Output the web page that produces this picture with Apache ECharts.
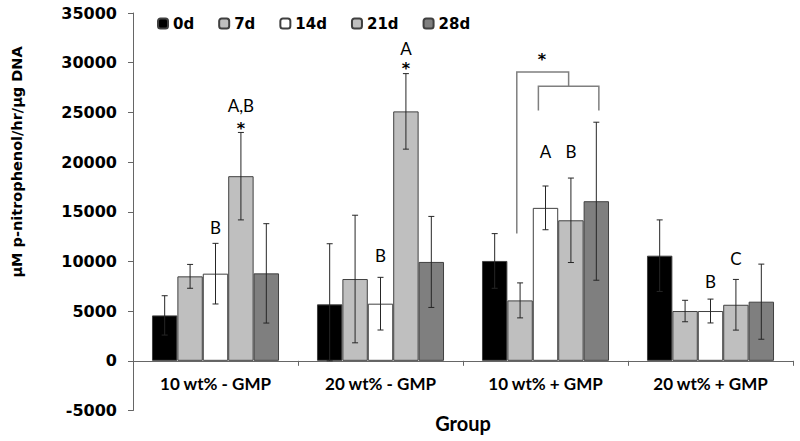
<!DOCTYPE html>
<html>
<head>
<meta charset="utf-8">
<script src="https://cdn.jsdelivr.net/npm/echarts@6/dist/echarts.min.js"></script>
<style>html,body{margin:0;padding:0;background:#fff;}#c{width:800px;height:441px;}</style>
</head>
<body>
<div id="c"></div>
<script>
// ---- data ----
var groups = ['10 wt% - GMP', '20 wt% - GMP', '10 wt% + GMP', '20 wt% + GMP'];
var days = ['0d', '7d', '14d', '21d', '28d'];
var mean0d = [4570, 5680, 10050, 10580];
var mean7d = [8500, 8230, 6080, 5010];
var mean14d = [8770, 5750, 15390, 5010];
var mean21d = [18580, 25100, 14140, 5640];
var mean28d = [8800, 9950, 16060, 5950];
var err0d = [1980, 6100, 2750, 3600];
var err7d = [1200, 6420, 1760, 1080];
var err14d = [3050, 2650, 2200, 1200];
var err21d = [4400, 3800, 4250, 2550];
var err28d = [5000, 4580, 7950, 3780];
var yTicks = { min: -5000, max: 35000, step: 5000 };
// annotations: [groupIndex, dayIndex, yValue, text]
var annoGroup = [0, 0, 0, 1, 1, 1, 2, 2, 3, 3];
var annoDay = [2, 3, 3, 2, 3, 3, 2, 3, 2, 3];
var annoValue = [13380, 25700, 23790, 10580, 31380, 29820, 21100, 21100, 7960, 10280];
var annoText = ['B', 'A,B', '*', 'B', 'A', '*', 'A', 'B', 'B', 'C'];
// significance bracket in group 3 (slot offsets from 14d bar; values)
var bracketGroup = 2;
var bracketSlots = [-1.13, -0.28, 2.1];
var bracketValues = [12800, 29060, 27620, 25200];
var bracketStarValue = 30740;

var means = [mean0d, mean7d, mean14d, mean21d, mean28d];
var errs = [err0d, err7d, err14d, err21d, err28d];
var colors = ['#000000', '#bfbfbf', '#ffffff', '#bfbfbf', '#7f7f7f'];
var CAT_GAP = 0.23;
var GRID = { left: 133, right: 7, top: 13, bottom: 30.5 };
var H = 441;
// place the category axis on the value 0 line
var plotH = H - GRID.top - GRID.bottom;
var zeroOffset = -plotH * (0 - yTicks.min) / (yTicks.max - yTicks.min);

var chart = echarts.init(document.getElementById('c'), null, { renderer: 'svg' });

function barW(api) {
  return api.size([1, 0])[0] * (1 - CAT_GAP) / days.length;
}
function textEl(t, x, y) {
  var star = t === '*';
  return { type: 'text', x: x, y: y + (star ? 4 : 0), style: {
    text: t, fill: '#000000', stroke: null, fontFamily: star ? 'DejaVu Sans' : 'Lato',
    fontWeight: star ? 'bold' : 'normal',
    fontSize: star ? 16 : 17, lineHeight: 12, align: 'center', verticalAlign: 'middle'
  }};
}

var series = [];
days.forEach(function (d, i) {
  series.push({
    name: d, type: 'bar', barGap: 0, barCategoryGap: '23%',
    data: means[i],
    itemStyle: { color: colors[i], borderColor: '#404040', borderWidth: 1 },
    emphasis: { disabled: true }, z: 2
  });
});

var errData = [];
days.forEach(function (d, i) {
  groups.forEach(function (g, j) { errData.push([j, i, means[i][j], errs[i][j]]); });
});
series.push({
  type: 'custom', z: 5, silent: true, itemStyle: { color: '#000' },
  data: errData,
  encode: { x: 0, y: 2 },
  renderItem: function (params, api) {
    var g = api.value(0), di = api.value(1), m = api.value(2), e = api.value(3);
    var w = barW(api);
    var x = api.coord([g, 0])[0] + (di - 2) * w;
    var yt = api.coord([g, m + e])[1], yb = api.coord([g, Math.max(m - e, 0)])[1];
    var cap = 3;
    var st = { stroke: '#262626', lineWidth: 1, fill: null };
    return { type: 'group', children: [
      { type: 'line', shape: { x1: x, y1: yt, x2: x, y2: yb }, style: st },
      { type: 'line', shape: { x1: x - cap, y1: yt, x2: x + cap, y2: yt }, style: st },
      { type: 'line', shape: { x1: x - cap, y1: yb, x2: x + cap, y2: yb }, style: st }
    ]};
  }
});

var annoData = annoText.map(function (t, k) { return [annoGroup[k], annoDay[k], annoValue[k], k]; });
series.push({
  type: 'custom', z: 6, silent: true, itemStyle: { color: '#000' },
  data: annoData,
  encode: { x: 0, y: 2 },
  renderItem: function (params, api) {
    var g = api.value(0), di = api.value(1), v = api.value(2), k = api.value(3);
    var w = barW(api);
    var x = api.coord([g, 0])[0] + (di - 2) * w;
    var y = api.coord([g, v])[1];
    return textEl(annoText[k], x, y);
  }
});

series.push({
  type: 'custom', z: 6, silent: true, itemStyle: { color: '#000' },
  data: [[bracketGroup, bracketValues[1]]],
  encode: { x: 0, y: 1 },
  renderItem: function (params, api) {
    var w = barW(api);
    var cx = api.coord([bracketGroup, 0])[0];
    function X(s) { return cx + s * w; }
    function Y(v) { return api.coord([bracketGroup, v])[1]; }
    var oL = X(bracketSlots[0]), iL = X(bracketSlots[1]), iR = X(bracketSlots[2]);
    var mid = (iL + iR) / 2;
    var st = { stroke: '#7f7f7f', lineWidth: 1.5, fill: null };
    return { type: 'group', children: [
      { type: 'polyline', shape: { points: [[oL, Y(bracketValues[0])], [oL, Y(bracketValues[1])], [mid, Y(bracketValues[1])], [mid, Y(bracketValues[2])]] }, style: st },
      { type: 'polyline', shape: { points: [[iL, Y(bracketValues[3])], [iL, Y(bracketValues[2])], [iR, Y(bracketValues[2])], [iR, Y(bracketValues[3])]] }, style: st },
      textEl('*', X(-0.14), Y(bracketStarValue))
    ]};
  }
});

chart.setOption({
  animation: false,
  backgroundColor: '#fff',
  grid: { left: GRID.left, right: GRID.right, top: GRID.top, bottom: GRID.bottom, containLabel: false, outerBoundsMode: 'none' },
  legend: {
    data: days, left: 157, top: 16, padding: 0, itemWidth: 10, itemHeight: 10, itemGap: 24,
    selectedMode: false,
    textStyle: { fontFamily: 'DejaVu Sans', fontWeight: 'bold', fontSize: 15, color: '#000' }
  },
  xAxis: {
    type: 'category', data: groups, offset: zeroOffset,
    axisLine: { onZero: false, lineStyle: { color: '#666', width: 1 } },
    axisTick: { show: true, length: 5, lineStyle: { color: '#666' } },
    axisLabel: { fontFamily: 'Lato', fontWeight: 'bold', fontSize: 17, color: '#000', margin: 14 },
    name: 'Group', nameLocation: 'middle', nameGap: 52,
    nameTextStyle: { fontFamily: 'Lato', fontWeight: 'bold', fontSize: 20, color: '#000' }
  },
  yAxis: {
    type: 'value', min: yTicks.min, max: yTicks.max, interval: yTicks.step,
    axisLine: { show: true, lineStyle: { color: '#666', width: 1 } },
    axisTick: { show: true, length: 5, lineStyle: { color: '#666' } },
    splitLine: { show: false },
    axisLabel: { fontFamily: 'DejaVu Sans', fontWeight: 'bold', fontSize: 16, color: '#000', margin: 16,
      formatter: function (v) { return String(v); } }
  },
  graphic: [{
    type: 'text', x: 16.5, y: 162, rotation: Math.PI / 2,
    style: { text: 'µM p-nitrophenol/hr/µg DNA', fill: '#000', font: 'bold 14.5px "DejaVu Sans"', align: 'center', verticalAlign: 'middle' }
  }],
  series: series
});
</script>
</body>
</html>
